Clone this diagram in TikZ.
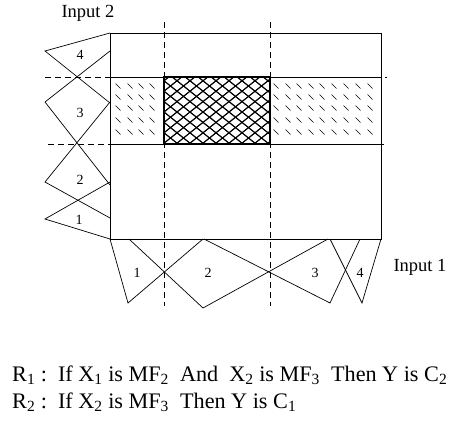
\documentclass[tikz,border=0pt]{standalone}
\usepackage{fontspec}
\setmainfont{Liberation Serif}
\begin{document}
\begin{tikzpicture}[x=1pt,y=-1pt,
  mf/.style={line width=0.7pt},
  guide/.style={dashed,dash pattern=on 6pt off 4pt,line width=0.8pt},
  lbl/.style={font=\fontsize{14}{16}\selectfont,inner sep=0pt},
  axlbl/.style={font=\fontsize{18.5}{20}\selectfont,inner sep=0pt},
  rule/.style={font=\fontsize{22.2}{24}\selectfont,inner sep=0pt,anchor=west},
  hatch/.style={line width=0.6pt}]
\useasboundingbox (0,0) rectangle (450,423);
% main frame
\coordinate (tl) at (110,33);
\coordinate (br) at (381,239);
\draw[line width=0.8pt] (tl) rectangle (br);
% band
\draw[line width=0.6pt] (110,77) rectangle (381,144);
% diagonal dashes (left and right)
\foreach \x in {118,130,141,152} {
  \foreach \y in {86,97,108,120,132} {
    \draw[hatch] (\x-2.5,\y-2.5) -- (\x+2.5,\y+2.5);
  }
}
\foreach \x in {276,288,299,311,322,334,346,358,370} {
  \foreach \y in {86,97,108,120,132} {
    \draw[hatch] (\x-2.5,\y-2.5) -- (\x+2.5,\y+2.5);
  }
}
% crosshatch
\begin{scope}
\clip (164,77) rectangle (270,144);
\foreach \c in {60,73,...,400} {
  \draw[line width=1.2pt] (\c,60) -- (\c+125,160);
  \draw[line width=1.2pt] (\c,60) -- (\c-125,160);
}
\end{scope}
\draw[line width=1.8pt] (164,77) rectangle (270,144);
% guides
\draw[guide] (45,77) -- (387,77);
\draw[guide] (48,144) -- (387,144);
\draw[guide] (164,22) -- (164,306);
\draw[guide] (270,22) -- (270,306);
% left membership functions (Input 2)
\draw[mf] (110,33) -- (45,51) -- (110,103);
\draw[mf] (110,51) -- (45,102) -- (110,185);
\draw[mf] (110,102) -- (45,182) -- (110,218);
\draw[mf] (110,182) -- (45,219) -- (110,239);
% bottom membership functions (Input 1)
\draw[mf] (110,239) -- (128,303) -- (203,239);
\draw[mf] (129,239) -- (203,308) -- (328,239);
\draw[mf] (204,239) -- (330,303) -- (360,239);
\draw[mf] (330,239) -- (362,303) -- (381,239);
% labels
\node[lbl] (l4) at (80,55) {4};
\node[lbl] (l3) at (80,113) {3};
\node[lbl] (l2) at (80,180) {2};
\node[lbl] (l1) at (79,220) {1};
\node[lbl] (b1) at (137,273) {1};
\node[lbl] (b2) at (208,273) {2};
\node[lbl] (b3) at (315,273) {3};
\node[lbl] (b4) at (360,273) {4};
\node[axlbl] (in2) at (88,13) {Input 2};
\node[axlbl] (in1) at (420,267) {Input 1};
% rules
\node[rule] (r1) at (12,375) {R\textsubscript{1} :\ \ If X\textsubscript{1} is MF\textsubscript{2}\ \ And\ \ X\textsubscript{2} is MF\textsubscript{3}\ \ Then Y is C\textsubscript{2}};
\node[rule] (r2) at (12,402) {R\textsubscript{2} :\ \ If X\textsubscript{2} is MF\textsubscript{3}\ \ Then Y is C\textsubscript{1}};
\end{tikzpicture}
\end{document}
